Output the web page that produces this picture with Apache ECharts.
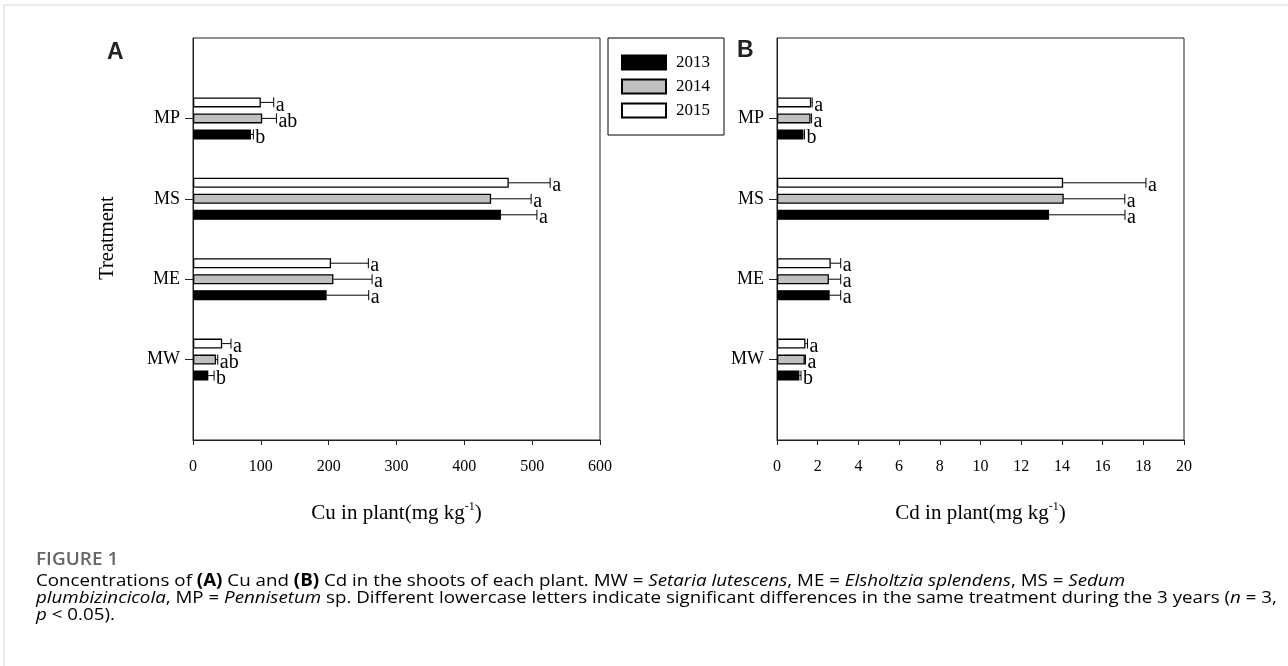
<!DOCTYPE html>
<html>
<head>
<meta charset="utf-8">
<script src="https://cdn.jsdelivr.net/npm/echarts@6/dist/echarts.min.js"></script>
<style>
html,body{margin:0;padding:0;background:#fff;}
#c{width:1288px;height:666px;}
</style>
</head>
<body>
<div id="c"></div>
<script>
// ---- data ----
const treatments = ['MW', 'ME', 'MS', 'MP'];
const years = ['2013', '2014', '2015'];

// Panel A: Cu in plant (mg kg-1)
const cu2013 = [22.6, 197, 454, 85.5];
const cu2014 = [34, 207, 439.5, 102];
const cu2015 = [43, 203.5, 465.5, 100];
const cuErr2013 = [8.5, 62, 53, 3.5];
const cuErr2014 = [2.5, 57, 59, 21];
const cuErr2015 = [13, 55, 61, 19];
const cuLet2013 = ['b', 'a', 'a', 'b'];
const cuLet2014 = ['ab', 'a', 'a', 'ab'];
const cuLet2015 = ['a', 'a', 'a', 'a'];

// Panel B: Cd in plant (mg kg-1)
const cd2013 = [1.10, 2.59, 13.37, 1.30];
const cd2014 = [1.37, 2.55, 14.09, 1.65];
const cd2015 = [1.40, 2.64, 14.06, 1.68];
const cdErr2013 = [0.08, 0.54, 3.73, 0.05];
const cdErr2014 = [0.03, 0.58, 3.0, 0.05];
const cdErr2015 = [0.10, 0.49, 4.07, 0.05];
const cdLet2013 = ['b', 'a', 'a', 'b'];
const cdLet2014 = ['a', 'a', 'a', 'a'];
const cdLet2015 = ['a', 'a', 'a', 'a'];

const cuTicks = {min: 0, max: 600, interval: 100};
const cdTicks = {min: 0, max: 20, interval: 2};

// ---- build ----
const cats = [''].concat(treatments, ['']);
const pad = arr => [null].concat(arr, [null]);
const serif = 'Liberation Serif, Times New Roman, serif';
const fills = {'2013': '#000000', '2014': '#c0c0c0', '2015': '#ffffff'};
const offsets = {'2013': 16, '2014': 0, '2015': -16};

function barSeries(name, vals, gi) {
  return {
    name: name, type: 'bar', xAxisIndex: gi, yAxisIndex: gi,
    data: pad(vals), barWidth: 10, barGap: '60%',
    itemStyle: {color: fills[name], borderColor: '#000', borderWidth: 1.3},
    emphasis: {disabled: true}, z: 3
  };
}
function errSeries(name, vals, errs, letters, gi) {
  return {
    type: 'custom', xAxisIndex: gi, yAxisIndex: gi, z: 4, silent: true,
    data: vals.map((v, i) => [i + 1, v, errs[i]]),
    encode: {x: 1, y: 0},
    renderItem: function (params, api) {
      const ci = api.value(0), v = api.value(1), e = api.value(2);
      const p0 = api.coord([v, ci]);
      const p1 = api.coord([v + e, ci]);
      const y = p0[1] + offsets[name];
      const st = {stroke: '#000', lineWidth: 1};
      return {type: 'group', children: [
        {type: 'line', shape: {x1: p0[0], y1: y, x2: p1[0], y2: y}, style: st},
        {type: 'line', shape: {x1: p1[0], y1: y - 5, x2: p1[0], y2: y + 5}, style: st},
        {type: 'text', x: p1[0] + 2, y: y + 3,
         style: {text: letters[params.dataIndex], font: '20px ' + serif, fill: '#000',
                 verticalAlign: 'middle', align: 'left'}}
      ]};
    }
  };
}

function xAxisFor(gi, ticks, title) {
  return {
    type: 'value', gridIndex: gi, min: ticks.min, max: ticks.max, interval: ticks.interval,
    splitLine: {show: false},
    axisLine: {show: true, lineStyle: {color: '#222', width: 1}},
    axisTick: {show: true, length: 5, lineStyle: {color: '#222'}},
    axisLabel: {color: '#000', fontFamily: serif, fontSize: 16, margin: 19},
    name: '{t|' + title + '(mg kg}{s|-1}{t|)}',
    nameLocation: 'middle', nameGap: 61,
    nameTextStyle: {rich: {
      t: {fontFamily: serif, fontSize: 21, color: '#000', lineHeight: 24},
      s: {fontFamily: serif, fontSize: 12, color: '#000', lineHeight: 24, verticalAlign: 'top', padding: [0, 0, 11, 0]}
    }}
  };
}
function yAxisFor(gi) {
  return {
    type: 'category', gridIndex: gi, data: cats, boundaryGap: false,
    axisLine: {show: true, lineStyle: {color: '#222', width: 1}},
    axisTick: {show: true, length: 8, lineStyle: {color: '#222'},
               interval: function (idx, val) { return val !== ''; }},
    axisLabel: {color: '#000', fontFamily: serif, fontSize: 18, margin: 13,
                interval: function (idx, val) { return val !== ''; }},
    splitLine: {show: false}
  };
}

const capFont = 18.75;
const capLH = 18.9;
const cap = {
  n: {fontFamily: 'Open Sans', fontSize: capFont, color: '#7a7a7a', lineHeight: capLH},
  b: {fontFamily: 'Open Sans', fontSize: capFont, color: '#555', fontWeight: 'bold', lineHeight: capLH},
  i: {fontFamily: 'Open Sans', fontSize: capFont, color: '#7a7a7a', fontStyle: 'italic', lineHeight: capLH}
};

const option = {
  animation: false,
  backgroundColor: '#fff',
  grid: [
    {left: 193, top: 38, width: 407, height: 402, show: true, borderColor: '#222', borderWidth: 1},
    {left: 777, top: 38, width: 407, height: 402, show: true, borderColor: '#222', borderWidth: 1}
  ],
  xAxis: [xAxisFor(0, cuTicks, 'Cu in plant'), xAxisFor(1, cdTicks, 'Cd in plant')],
  yAxis: [yAxisFor(0), yAxisFor(1)],
  legend: {
    data: years, orient: 'vertical', left: 608, top: 38, icon: 'rect',
    padding: [16, 14, 16, 13], itemGap: 7, itemWidth: 44, itemHeight: 14,
    borderColor: '#000', borderWidth: 1, selectedMode: false,
    textStyle: {fontFamily: serif, fontSize: 17, color: '#000', padding: [0, 0, 0, 5]}
  },
  series: [
    barSeries('2015', cu2015, 0), barSeries('2014', cu2014, 0), barSeries('2013', cu2013, 0),
    barSeries('2015', cd2015, 1), barSeries('2014', cd2014, 1), barSeries('2013', cd2013, 1),
    errSeries('2013', cu2013, cuErr2013, cuLet2013, 0),
    errSeries('2014', cu2014, cuErr2014, cuLet2014, 0),
    errSeries('2015', cu2015, cuErr2015, cuLet2015, 0),
    errSeries('2013', cd2013, cdErr2013, cdLet2013, 1),
    errSeries('2014', cd2014, cdErr2014, cdLet2014, 1),
    errSeries('2015', cd2015, cdErr2015, cdLet2015, 1)
  ],
  graphic: [
    {type: 'rect', shape: {x: 4, y: 5, width: 1400, height: 800}, silent: true, z: -10,
     style: {fill: 'none', stroke: '#d6d6d6', lineWidth: 1}},
    {type: 'text', x: 107, y: 41, style: {text: 'A', font: 'bold 23px Liberation Sans, Arial, sans-serif', fill: '#222'}},
    {type: 'text', x: 737, y: 39, style: {text: 'B', font: 'bold 23px Liberation Sans, Arial, sans-serif', fill: '#222'}},
    {type: 'text', x: 108, y: 238, rotation: Math.PI / 2,
     style: {text: 'Treatment', font: '20.5px ' + serif, fill: '#000', align: 'center', verticalAlign: 'middle'}},
    {type: 'text', x: 36, y: 560, scaleY: 0.9,
     style: {text: 'FIGURE 1', font: '600 19px Open Sans', fill: '#666', verticalAlign: 'middle'}},
    {type: 'text', x: 36, y: 572.5, scaleY: 0.9, style: {
      rich: cap,
      text: '{n|Concentrations of }{b|(A)}{n| Cu and }{b|(B)}{n| Cd in the shoots of each plant. MW = }{i|Setaria lutescens}{n|, ME = }{i|Elsholtzia splendens}{n|, MS = }{i|Sedum}\n' +
            '{i|plumbizincicola}{n|, MP = }{i|Pennisetum}{n| sp. Different lowercase letters indicate significant differences in the same treatment during the 3 years (}{i|n}{n| = 3,}\n' +
            '{i|p}{n| < 0.05).}'
    }}
  ]
};

const chart = echarts.init(document.getElementById('c'), null, {renderer: 'canvas'});
chart.setOption(option);
</script>
</body>
</html>
